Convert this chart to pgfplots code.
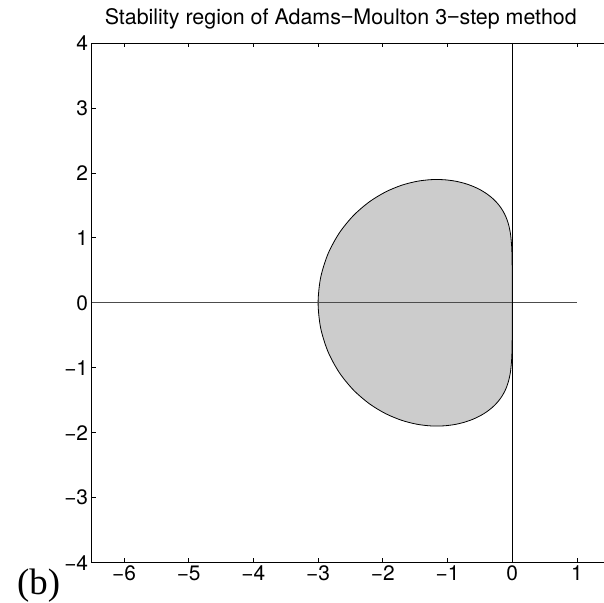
\documentclass[border=0pt]{standalone}
\usepackage{pgfplots}
\pgfplotsset{compat=1.18}
\usepackage{fontspec}
\setmainfont{TeX Gyre Heros}
\newfontfamily\serif{Liberation Serif}
\newfontfamily\dashfont{Liberation Sans}
\definecolor{regiongray}{RGB}{204,204,204}
\begin{document}
\begin{tikzpicture}
\begin{axis}[
  at={(0,0)}, anchor=south west,
  scale only axis, width=512.3bp, height=520bp,
  xmin=-6.5, xmax=1.412, ymin=-4, ymax=4,
  axis y line*=left,
  xtick={-6,...,1}, ytick={-4,...,4},
  xticklabels={−6,−5,−4,−3,−2,−1,0,1},
  yticklabels={−4,−3,−2,−1,0,1,2,3,4},
  xtick pos=both,
  tick align=inside,
  major tick length=4.5bp,
  every tick/.style={black, line width=0.7bp},
  axis line style={line width=0.9bp},
  tick label style={font=\fontsize{21}{25}\selectfont},
]
% boundary locus of the AM 3-step method, upper half then mirrored
\addplot[draw=black, line width=0.8bp, fill=regiongray, smooth] coordinates {
  (0,0) (0.0000,0.1745) (0.0000,0.3489) (-0.0004,0.5227) (-0.0022,0.6945)
  (-0.0079,0.8628) (-0.0219,1.0259) (-0.0340,1.1052) (-0.0506,1.1828)
  (-0.0728,1.2588) (-0.1017,1.3332) (-0.1386,1.4059) (-0.1846,1.4769)
  (-0.2412,1.5461) (-0.3097,1.6130) (-0.3916,1.6769) (-0.4886,1.7369)
  (-0.6024,1.7914) (-0.7347,1.8381) (-0.8870,1.8740) (-1.0605,1.8949)
  (-1.2558,1.8958) (-1.4721,1.8700) (-1.7071,1.8100) (-1.9552,1.7074)
  (-2.2078,1.5544) (-2.4520,1.3447) (-2.6711,1.0765) (-2.8465,0.7538)
  (-2.9604,0.3886) (-3.0000,0.0000)
  (-2.9604,-0.3886) (-2.8465,-0.7538) (-2.6711,-1.0765) (-2.4520,-1.3447)
  (-2.2078,-1.5544) (-1.9552,-1.7074) (-1.7071,-1.8100) (-1.4721,-1.8700)
  (-1.2558,-1.8958) (-1.0605,-1.8949) (-0.8870,-1.8740) (-0.7347,-1.8381)
  (-0.6024,-1.7914) (-0.4886,-1.7369) (-0.3916,-1.6769) (-0.3097,-1.6130)
  (-0.2412,-1.5461) (-0.1846,-1.4769) (-0.1386,-1.4059) (-0.1017,-1.3332)
  (-0.0728,-1.2588) (-0.0506,-1.1828) (-0.0340,-1.1052) (-0.0219,-1.0259)
  (-0.0079,-0.8628) (-0.0022,-0.6945) (-0.0004,-0.5227) (0.0000,-0.3489)
  (0.0000,-0.1745) (0,0)
} -- cycle;
% coordinate axes
\addplot[black!70, line width=0.8bp] coordinates {(-6.5,0) (1,0)};
\addplot[black, line width=0.7bp] coordinates {(0,-4) (0,4)};
\end{axis}
\node[anchor=base] at (249.3bp,538bp) {\fontsize{21.5}{25}\selectfont Stability region of Adams{\dashfont −}Moulton 3{\dashfont −}step method};
\node[anchor=base west, inner sep=0pt] at (-74.7bp,-32bp) {\serif\fontsize{37}{40}\selectfont (b)};
\path (-91.7bp,-37bp) rectangle (512.3bp,563bp);
\end{tikzpicture}
\end{document}
